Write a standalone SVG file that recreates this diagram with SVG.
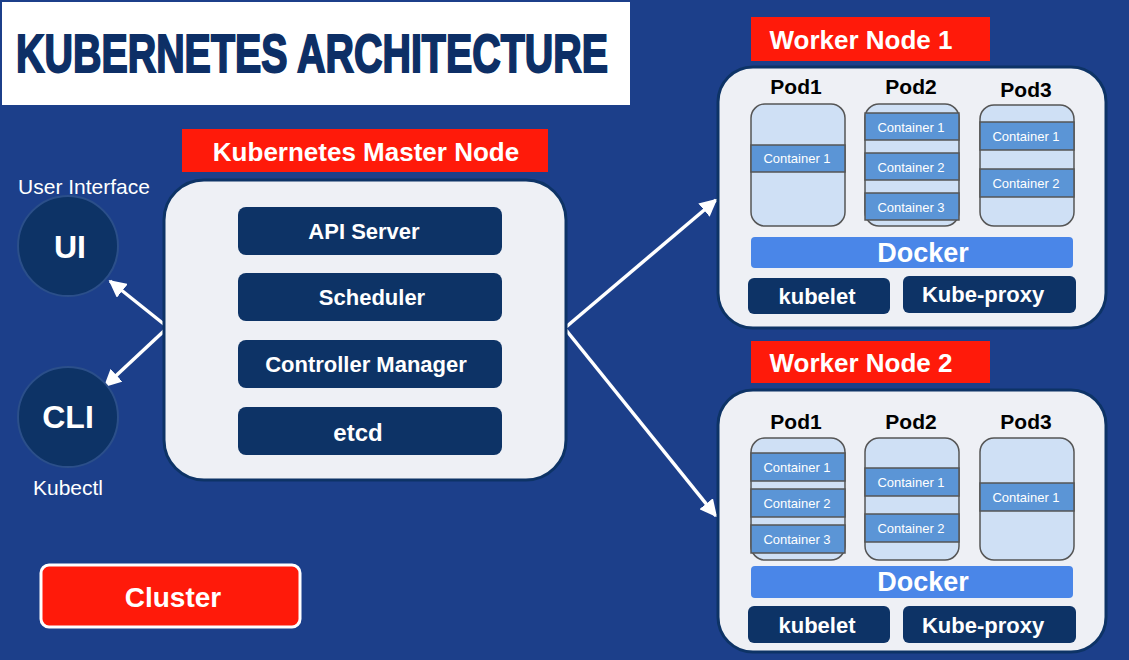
<svg xmlns="http://www.w3.org/2000/svg" width="1129" height="660" viewBox="0 0 1129 660">
<style>
text{font-family:"Liberation Sans",Arial,sans-serif;text-anchor:middle}
.red{fill:#ff1a0a}
.lbl{fill:#fff;font-weight:bold;font-size:26px}
.box{fill:#eef0f5;stroke:#0d3366;stroke-width:3}
.bar{fill:#0d3366}
.bt{fill:#fff;font-weight:bold;font-size:22px}
.big{font-size:32px}
.dk{font-size:27px}
.pod{fill:#cfe0f5;stroke:#555;stroke-width:1.5}
.ct{fill:#5b95d6;stroke:#555;stroke-width:1.5}
.ctt{fill:#fff;font-size:13px}
.pl{fill:#000;font-weight:bold;font-size:21px}
.dock{fill:#4a86e8}
.circ{fill:#0d3366;stroke:#2b4f8a;stroke-width:2}
.conn{stroke:#fff;stroke-width:3.5;fill:none;marker-end:url(#ah)}
</style>
<defs>
<marker id="ah" viewBox="0 0 10 10" refX="9" refY="5" markerWidth="5" markerHeight="5" orient="auto" markerUnits="strokeWidth"><path d="M0,0L10,5L0,10z" fill="#fff"/></marker>
</defs>
<rect width="1129" height="660" fill="#1c3f8a"/>
<g id="title"><rect x="2" y="2" width="628" height="103" fill="#fff"/>
<text x="312" y="72" font-size="54" font-weight="bold" fill="#0d2f66" stroke="#0d2f66" stroke-width="2" textLength="592" lengthAdjust="spacingAndGlyphs">KUBERNETES ARCHITECTURE</text></g>

<g id="connectors">
<line class="conn" x1="165" y1="325" x2="110" y2="281"/>
<line class="conn" x1="165" y1="330" x2="105" y2="386"/>
<line class="conn" x1="566" y1="327" x2="716" y2="200"/>
<line class="conn" x1="566" y1="330" x2="716" y2="516"/>
</g>

<g id="ui"><text x="84" y="194" font-size="21" fill="#fff">User Interface</text>
<circle class="circ" cx="68" cy="246" r="50"/><text class="bt big" x="70" y="258">UI</text></g>
<g id="cli"><circle class="circ" cx="68" cy="417" r="50"/><text class="bt big" x="68" y="428">CLI</text>
<text x="68" y="495" font-size="21" fill="#fff">Kubectl</text></g>

<g id="master">
<rect class="red" x="182" y="129" width="366" height="43"/>
<text class="lbl" x="366" y="161">Kubernetes Master Node</text>
<rect class="box" x="164" y="180" width="402" height="300" rx="40"/>
<rect class="bar" x="238" y="207" width="264" height="48" rx="8"/><text class="bt" x="364" y="239">API Server</text>
<rect class="bar" x="238" y="273" width="264" height="48" rx="8"/><text class="bt" x="372" y="305">Scheduler</text>
<rect class="bar" x="238" y="340" width="264" height="48" rx="8"/><text class="bt" x="366" y="372">Controller Manager</text>
<rect class="bar" x="238" y="407" width="264" height="48" rx="8"/><text class="bt" x="358" y="441" style="font-size:24px">etcd</text>
</g>

<g id="worker1">
<rect class="red" x="751" y="17" width="239" height="44"/>
<text class="lbl" x="861" y="49">Worker Node 1</text>
<rect class="box" x="718" y="67" width="388" height="261" rx="35"/>
<text class="pl" x="796" y="94">Pod1</text><text class="pl" x="911" y="94">Pod2</text><text class="pl" x="1026" y="97">Pod3</text>
<rect class="pod" x="751" y="104" width="94" height="122" rx="14"/>
<rect class="ct" x="751" y="145" width="94" height="27"/><text class="ctt" x="797" y="163">Container 1</text>
<rect class="pod" x="865" y="104" width="94" height="122" rx="14"/>
<rect class="ct" x="865" y="113" width="94" height="27"/><text class="ctt" x="911" y="132">Container 1</text>
<rect class="ct" x="865" y="153" width="94" height="27"/><text class="ctt" x="911" y="172">Container 2</text>
<rect class="ct" x="865" y="193" width="94" height="27"/><text class="ctt" x="911" y="212">Container 3</text>
<rect class="pod" x="980" y="105" width="94" height="121" rx="14"/>
<rect class="ct" x="980" y="122" width="94" height="28"/><text class="ctt" x="1026" y="141">Container 1</text>
<rect class="ct" x="980" y="169" width="94" height="28"/><text class="ctt" x="1026" y="188">Container 2</text>
<rect class="dock" x="751" y="237" width="322" height="31" rx="4"/><text class="bt dk" x="923" y="262">Docker</text>
<rect class="bar" x="748" y="278" width="142" height="36" rx="6"/><text class="bt" x="817" y="304">kubelet</text>
<rect class="bar" x="903" y="276" width="173" height="37" rx="6"/><text class="bt" x="983" y="302">Kube-proxy</text>
</g>

<g id="worker2">
<rect class="red" x="751" y="341" width="239" height="42"/>
<text class="lbl" x="861" y="372">Worker Node 2</text>
<rect class="box" x="718" y="390" width="388" height="262" rx="35"/>
<text class="pl" x="796" y="429">Pod1</text><text class="pl" x="911" y="429">Pod2</text><text class="pl" x="1026" y="429">Pod3</text>
<rect class="pod" x="751" y="438" width="94" height="122" rx="14"/>
<rect class="ct" x="751" y="453" width="94" height="28"/><text class="ctt" x="797" y="472">Container 1</text>
<rect class="ct" x="751" y="489" width="94" height="28"/><text class="ctt" x="797" y="508">Container 2</text>
<rect class="ct" x="751" y="525" width="94" height="28"/><text class="ctt" x="797" y="544">Container 3</text>
<rect class="pod" x="865" y="438" width="94" height="122" rx="14"/>
<rect class="ct" x="865" y="468" width="94" height="28"/><text class="ctt" x="911" y="487">Container 1</text>
<rect class="ct" x="865" y="514" width="94" height="28"/><text class="ctt" x="911" y="533">Container 2</text>
<rect class="pod" x="980" y="438" width="94" height="122" rx="14"/>
<rect class="ct" x="980" y="483" width="94" height="28"/><text class="ctt" x="1026" y="502">Container 1</text>
<rect class="dock" x="751" y="566" width="322" height="32" rx="4"/><text class="bt dk" x="923" y="591">Docker</text>
<rect class="bar" x="748" y="606" width="142" height="37" rx="6"/><text class="bt" x="817" y="633">kubelet</text>
<rect class="bar" x="903" y="606" width="173" height="37" rx="6"/><text class="bt" x="983" y="633">Kube-proxy</text>
</g>

<g id="cluster"><rect class="red" x="41" y="565" width="259" height="62" rx="8" stroke="#fff" stroke-width="3"/>
<text class="lbl" x="173" y="607" style="font-size:28px">Cluster</text></g>
</svg>
